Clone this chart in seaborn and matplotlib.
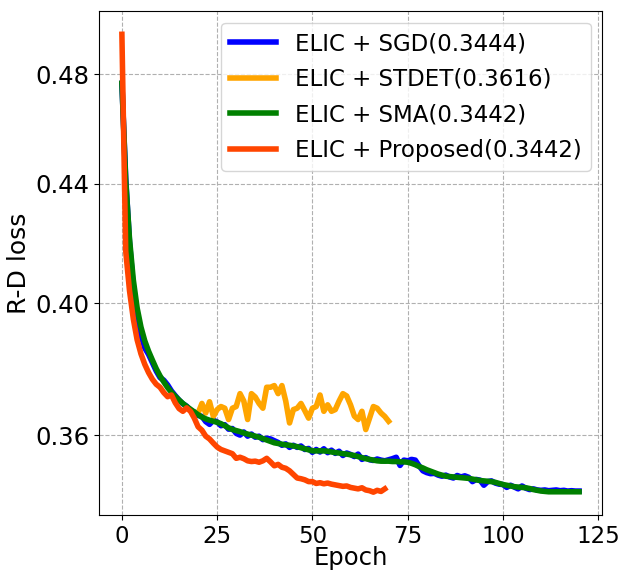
import pandas as pd
import seaborn as sns
import matplotlib.pyplot as plt
import matplotlib.ticker as mticker

# R-D loss per epoch
sgd = [0.4766, 0.442, 0.420, 0.405, 0.397, 0.390, 0.386, 0.384, 0.3815, 0.379,
       0.3770, 0.3762, 0.3748, 0.3730, 0.3716, 0.3703, 0.3692, 0.3685, 0.3672, 0.3668,
       0.3658, 0.3655, 0.3640, 0.3632, 0.3644, 0.3639, 0.3628, 0.3631, 0.3618, 0.3620,
       0.3606, 0.3601, 0.3610, 0.3598, 0.3604, 0.3595, 0.3598, 0.3588, 0.3592, 0.3590,
       0.3585, 0.3580, 0.3572, 0.3576, 0.3566, 0.3572, 0.3566, 0.3570, 0.3560, 0.3563,
       0.3552, 0.3560, 0.3553, 0.3562, 0.3551, 0.3558, 0.3549, 0.3555, 0.3543, 0.3550,
       0.3546, 0.3540, 0.3547, 0.3532, 0.3537, 0.3531, 0.3529, 0.3533, 0.3530, 0.3528,
       0.3531, 0.3534, 0.3538, 0.3515, 0.3530, 0.3528, 0.3532, 0.3530, 0.3514, 0.3500,
       0.3495, 0.3492, 0.3493, 0.3488, 0.3485, 0.3488, 0.3483, 0.3480, 0.3487, 0.3483,
       0.3486, 0.3482, 0.3470, 0.3476, 0.3474, 0.3460, 0.3470, 0.3472, 0.3466, 0.3463,
       0.3462, 0.3454, 0.3460, 0.3455, 0.3450, 0.3458, 0.3452, 0.3448, 0.3450, 0.3447,
       0.3446, 0.3447, 0.3445, 0.3446, 0.3447, 0.3445, 0.3446, 0.3444, 0.3445, 0.3444,
       0.3444]

sma = [0.4766, 0.441, 0.421, 0.4075, 0.3985, 0.3925, 0.3882, 0.3850, 0.3823, 0.3797,
       0.3775, 0.3757, 0.3740, 0.3726, 0.3714, 0.3703, 0.3693, 0.3684, 0.3676, 0.3668,
       0.3660, 0.3653, 0.3648, 0.3644, 0.3641, 0.3638, 0.3634, 0.3628, 0.3622, 0.3617,
       0.3614, 0.3611, 0.3607, 0.3604, 0.3601, 0.3598, 0.3595, 0.3591, 0.3587, 0.3583,
       0.3579, 0.3577, 0.3575, 0.3573, 0.3572, 0.3570, 0.3568, 0.3565, 0.3562, 0.3559,
       0.3556, 0.3556, 0.3556, 0.3556, 0.3555, 0.3553, 0.3551, 0.3550, 0.3548, 0.3547,
       0.3545, 0.3543, 0.3540, 0.3537, 0.3534, 0.3532, 0.3530, 0.3528, 0.3527, 0.3527,
       0.3527, 0.3526, 0.3526, 0.3525, 0.3525, 0.3524, 0.3521, 0.3517, 0.3512, 0.3508,
       0.3503, 0.3499, 0.3495, 0.3491, 0.3488, 0.3485, 0.3484, 0.3483, 0.3482, 0.3481,
       0.3480, 0.3479, 0.3477, 0.3475, 0.3473, 0.3472, 0.3471, 0.3470, 0.3468, 0.3465,
       0.3462, 0.3460, 0.3458, 0.3456, 0.3455, 0.3454, 0.3453, 0.3451, 0.3448, 0.3446,
       0.3444, 0.3443, 0.3442, 0.3442, 0.3442, 0.3442, 0.3442, 0.3442, 0.3442, 0.3442,
       0.3442]

# STDET only starts at epoch 20
stdet_start = 20
stdet = [0.3665, 0.3693, 0.3665, 0.3698, 0.3655, 0.3675, 0.3684, 0.3679, 0.3646, 0.3679,
         0.3684, 0.3722, 0.3700, 0.3646, 0.3722, 0.3712, 0.3693, 0.3679, 0.3741, 0.3741,
         0.3746, 0.3722, 0.3746, 0.3700, 0.3636, 0.3675, 0.3679, 0.3693, 0.3672, 0.3650,
         0.3679, 0.3684, 0.3718, 0.3670, 0.3689, 0.3670, 0.3675, 0.3700, 0.3722, 0.3715,
         0.3689, 0.3656, 0.3646, 0.3670, 0.3617, 0.3650, 0.3684, 0.3679, 0.3665, 0.3655,
         0.3641]

proposed = [0.4956, 0.417, 0.404, 0.395, 0.3885, 0.3842, 0.3810, 0.3785, 0.3765, 0.3750,
            0.3741, 0.3725, 0.3713, 0.3718, 0.3695, 0.3678, 0.3670, 0.3680, 0.3670, 0.3650,
            0.3625, 0.3615, 0.3598, 0.3590, 0.3578, 0.3567, 0.3560, 0.3556, 0.3552, 0.3548,
            0.3535, 0.3538, 0.3534, 0.3528, 0.3526, 0.3527, 0.3524, 0.3528, 0.3535, 0.3525,
            0.3514, 0.3518, 0.3510, 0.3507, 0.3500, 0.3490, 0.3480, 0.3478, 0.3475, 0.3470,
            0.3470, 0.3465, 0.3467, 0.3464, 0.3466, 0.3463, 0.3461, 0.3459, 0.3457, 0.3458,
            0.3454, 0.3452, 0.3450, 0.3453, 0.3447, 0.3445, 0.3441, 0.3446, 0.3443, 0.3450]

labels = ['ELIC + SGD(0.3444)', 'ELIC + STDET(0.3616)',
          'ELIC + SMA(0.3442)', 'ELIC + Proposed(0.3442)']
colors = ['blue', 'orange', 'green', 'orangered']

df = pd.concat([
    pd.DataFrame({'Epoch': range(len(sgd)), 'loss': sgd, 'method': labels[0]}),
    pd.DataFrame({'Epoch': range(stdet_start, stdet_start + len(stdet)), 'loss': stdet, 'method': labels[1]}),
    pd.DataFrame({'Epoch': range(len(sma)), 'loss': sma, 'method': labels[2]}),
    pd.DataFrame({'Epoch': range(len(proposed)), 'loss': proposed, 'method': labels[3]}),
])

fig, ax = plt.subplots(figsize=(6.19, 5.71), dpi=100)
fig.subplots_adjust(left=0.16, right=0.9725, bottom=0.098, top=0.98)

sns.lineplot(data=df, x='Epoch', y='loss', hue='method', hue_order=labels,
             palette=colors, linewidth=4, ax=ax)

ax.set_yscale('log')
ax.yaxis.set_major_locator(mticker.FixedLocator([0.36, 0.40, 0.44, 0.48]))
ax.yaxis.set_major_formatter(mticker.FormatStrFormatter('%.2f'))
ax.yaxis.set_minor_locator(mticker.NullLocator())
ax.set_xticks([0, 25, 50, 75, 100, 125])

ax.grid(True, linestyle='--', color='#b0b0b0', linewidth=0.8)
ax.set_axisbelow(True)
ax.tick_params(axis='y', labelsize=17.5)
ax.tick_params(axis='x', labelsize=16.5)
ax.set_xlabel('Epoch', fontsize=17.5, labelpad=-1)
ax.set_ylabel('R-D loss', fontsize=18, labelpad=3)

leg = ax.legend(fontsize=16.5, loc='upper right', labelspacing=0.55)
for line in leg.get_lines():
    line.set_linewidth(4)

plt.savefig('out.png')
